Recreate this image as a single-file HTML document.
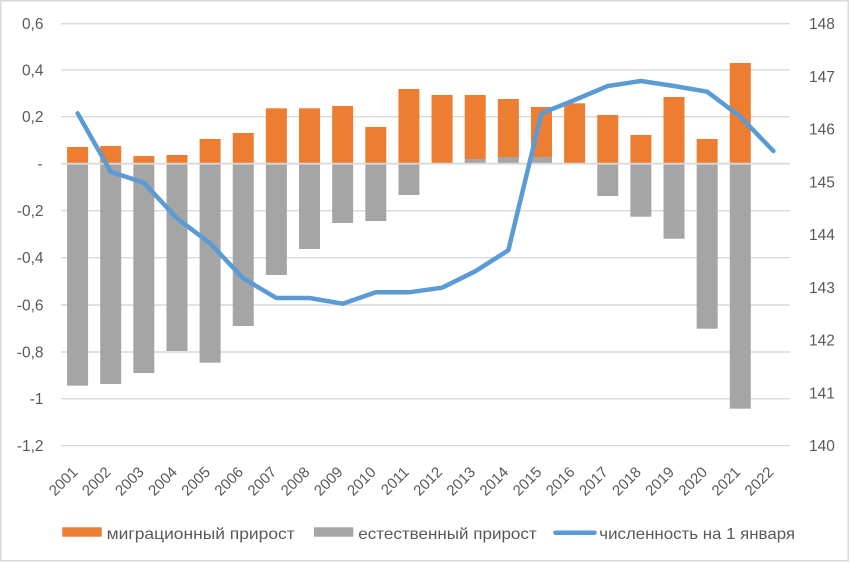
<!DOCTYPE html>
<html><head><meta charset="utf-8"><style>
html,body{margin:0;padding:0;background:#fff;}
svg{display:block;}
text{font-family:"Liberation Sans","DejaVu Sans",sans-serif;fill:#595959;}
</style></head><body>
<svg width="851" height="563" viewBox="0 0 851 563" xmlns="http://www.w3.org/2000/svg">
<rect x="0" y="0" width="851" height="563" fill="#fff"/>
<rect x="0.75" y="0.75" width="847.5" height="560" fill="none" stroke="#D9D9D9" stroke-width="1.5"/>
<g stroke="#D9D9D9" stroke-width="1.4">
<line x1="61" x2="790" y1="23.7" y2="23.7"/>
<line x1="61" x2="790" y1="69.9" y2="69.9"/>
<line x1="61" x2="790" y1="116.7" y2="116.7"/>
<line x1="61" x2="790" y1="210.7" y2="210.7"/>
<line x1="61" x2="790" y1="257.7" y2="257.7"/>
<line x1="61" x2="790" y1="305" y2="305"/>
<line x1="61" x2="790" y1="352" y2="352"/>
<line x1="61" x2="790" y1="398.7" y2="398.7"/>
<line x1="61" x2="790" y1="445.7" y2="445.7"/>
</g>
<g id="bars"></g>
<line x1="61" x2="790" y1="163.7" y2="163.7" stroke="#D9D9D9" stroke-width="1.8"/>
<polyline id="pop" fill="none" stroke="#5B9BD5" stroke-width="4.5" stroke-linejoin="round" stroke-linecap="round" points=""/>
<g font-size="15.5" text-anchor="end">
<text x="43.5" y="29.2">0,6</text>
<text x="43.5" y="75.4">0,4</text>
<text x="43.5" y="122.2">0,2</text>
<text x="42.5" y="169.2">-</text>
<text x="43.5" y="216.2">-0,2</text>
<text x="43.5" y="263.2">-0,4</text>
<text x="43.5" y="310.5">-0,6</text>
<text x="43.5" y="357.5">-0,8</text>
<text x="43.5" y="404.2">-1</text>
<text x="43.5" y="451.2">-1,2</text>
</g>
<g font-size="15.5" text-anchor="start">
<text x="809" y="29.2">148</text>
<text x="809" y="81.9">147</text>
<text x="809" y="134.7">146</text>
<text x="809" y="187.4">145</text>
<text x="809" y="240.2">144</text>
<text x="809" y="292.9">143</text>
<text x="809" y="345.6">142</text>
<text x="809" y="398.4">141</text>
<text x="809" y="451.1">140</text>
</g>
<g id="xl" font-size="15" text-anchor="end"></g>
<rect x="62.3" y="527.3" width="39.4" height="9.4" fill="#ED7D31"/>
<text x="106.7" y="539" font-size="16" textLength="188" lengthAdjust="spacingAndGlyphs">миграционный прирост</text>
<rect x="314" y="527.3" width="39.3" height="9.4" fill="#A5A5A5"/>
<text x="358.3" y="539" font-size="16" textLength="178.4" lengthAdjust="spacingAndGlyphs">естественный прирост</text>
<line x1="555.5" x2="594.5" y1="532.7" y2="532.7" stroke="#5B9BD5" stroke-width="4.5" stroke-linecap="round"/>
<text x="599.3" y="539" font-size="16" textLength="195.7" lengthAdjust="spacingAndGlyphs">численность на 1 января</text>
</svg>
<script>
(function(){
var NS="http://www.w3.org/2000/svg";
var x0=61,cw=729/22,bw=21;
// [orangeTop, grayTop(start), grayBottom]
var bars=[
[147,163.5,385.7],[146,163.5,384],[156,163.5,373],[155,163.5,351],[139,163.5,362.7],
[133,163.5,326],[108.3,163.5,275],[108.3,163.5,249],[106,163.5,223],[127,163.5,221],
[89,163.5,195],[95,163.5,164.5],[95,159,163.5],[99,157,163.5],[107,157,163.5],
[103.3,163.5,164.2],[115,163.5,196],[135,163.5,216.7],[97,163.5,238.7],[139,163.5,328.7],[63,163.5,408.7]
];
var g=document.getElementById("bars");
function rect(x,y,w,h,f){var r=document.createElementNS(NS,"rect");r.setAttribute("x",x);r.setAttribute("y",y);r.setAttribute("width",w);r.setAttribute("height",Math.max(0,h));r.setAttribute("fill",f);g.appendChild(r);}
for(var i=0;i<bars.length;i++){
 var c=x0+(i+0.5)*cw, b=bars[i];
 var oBottom = b[1]<163 ? b[1] : 163.5;
 rect(c-bw/2,b[0],bw,oBottom-b[0],"#ED7D31");
 if(b[1]<163){ rect(c-bw/2,b[1],bw,163.5-b[1],"#A5A5A5"); }
 else { rect(c-bw/2,163.5,bw,b[2]-163.5,"#A5A5A5"); }
}
var py=[113.3,171.7,182.7,218.3,243.3,278.3,298,298,303.7,292.3,292.3,287.7,271.3,250.3,113.3,100,86,81,86,91.7,116.7,151];
var pts=[];
for(var j=0;j<py.length;j++){pts.push((x0+(j+0.5)*cw).toFixed(1)+","+py[j]);}
document.getElementById("pop").setAttribute("points",pts.join(" "));
var xl=document.getElementById("xl");
for(var k=0;k<22;k++){
 var cx=x0+(k+0.5)*cw+1, cy=473;
 var t=document.createElementNS(NS,"text");
 t.setAttribute("x",cx.toFixed(1));t.setAttribute("y",cy);
 t.setAttribute("transform","rotate(-45 "+cx.toFixed(1)+" "+cy+")");
 t.textContent=String(2001+k);
 xl.appendChild(t);
}
})();
</script>
</body></html>
